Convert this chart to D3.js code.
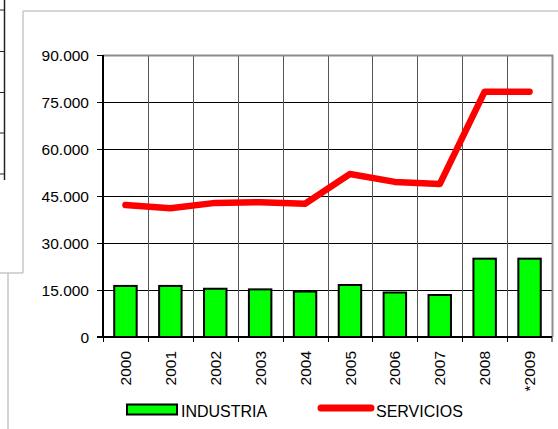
<!DOCTYPE html>
<html>
<head>
<meta charset="utf-8">
<script src="https://cdn.jsdelivr.net/npm/d3@7"></script>
<style>
  body { margin: 0; background: #fff; }
  svg { display: block; }
  text { font-family: "Liberation Sans", Arial, sans-serif; fill: #000; }
</style>
</head>
<body>
<svg id="chart" width="558" height="429"></svg>
<script>
var years = ["2000", "2001", "2002", "2003", "2004", "2005", "2006", "2007", "2008", "*2009"];
var industria = [16300, 16300, 15400, 15200, 14500, 16600, 14200, 13400, 25000, 25000];
var servicios = [42100, 41100, 42800, 43000, 42500, 52000, 49500, 48800, 78300, 78300];
var yTicks = [0, 15000, 30000, 45000, 60000, 75000, 90000];

var margin = {top: 55, right: 6, bottom: 92, left: 103};
var width = 558, height = 429;
var plotR = width - margin.right, plotB = height - margin.bottom;

var svg = d3.select("#chart");

// decorative frames left over from the sheet behind the chart
var deco = svg.append("g").attr("stroke", "#c8c8c8").attr("stroke-width", 1.5).attr("fill", "none");
deco.append("path").attr("d", "M23,11H558 M23,11V273 M0,273H23 M8,273V429");
var leftAxis = svg.append("g").attr("stroke", "#222").attr("stroke-width", 1.5);
leftAxis.append("line").attr("x1", 4.5).attr("x2", 4.5).attr("y1", 0).attr("y2", 180);
[10, 51.5, 92.5, 133, 174].forEach(function(y) {
    leftAxis.append("line").attr("x1", 0).attr("x2", 4.5).attr("y1", y).attr("y2", y).attr("stroke-width", 1);
});

var x = d3.scaleBand()
    .domain(years)
    .range([margin.left, plotR])
    .padding(0);

var y = d3.scaleLinear()
    .domain([0, 90000])
    .range([plotB, margin.top]);

var fmt = d3.formatLocale({decimal: ",", thousands: ".", grouping: [3], currency: ["", ""]}).format(",.0f");

// horizontal grid
svg.append("g").selectAll("line")
    .data(yTicks.slice(1, -1))
    .enter().append("line")
    .attr("x1", margin.left).attr("x2", plotR)
    .attr("y1", function(d) { return Math.round(y(d)) + 0.5; })
    .attr("y2", function(d) { return Math.round(y(d)) + 0.5; })
    .attr("stroke", "#000").attr("stroke-width", 1);

// vertical grid
svg.append("g").selectAll("line")
    .data(years.slice(1))
    .enter().append("line")
    .attr("x1", function(d) { return Math.round(x(d)) + 0.5; })
    .attr("x2", function(d) { return Math.round(x(d)) + 0.5; })
    .attr("y1", margin.top).attr("y2", plotB)
    .attr("stroke", "#555").attr("stroke-width", 1);

// plot frame top/right
svg.append("path")
    .attr("d", "M" + margin.left + "," + (margin.top + 0.5) + "H" + (plotR + 0.5) + "V" + plotB)
    .attr("fill", "none").attr("stroke", "#8c8c8c").attr("stroke-width", 2);

// bars
var bw = x.bandwidth() * 0.5;
svg.append("g").selectAll("rect")
    .data(industria)
    .enter().append("rect")
    .attr("x", function(d, i) { return x(years[i]) + (x.bandwidth() - bw) / 2; })
    .attr("y", function(d) { return y(d); })
    .attr("width", bw)
    .attr("height", function(d) { return plotB - y(d); })
    .attr("fill", "#00ff00")
    .attr("stroke", "#000")
    .attr("stroke-width", 2);

// y axis
var yAxis = svg.append("g");
yAxis.append("line")
    .attr("x1", margin.left).attr("x2", margin.left)
    .attr("y1", margin.top).attr("y2", plotB)
    .attr("stroke", "#000").attr("stroke-width", 2);
yAxis.selectAll("line.tick")
    .data(yTicks)
    .enter().append("line")
    .attr("class", "tick")
    .attr("x1", margin.left - 6).attr("x2", margin.left)
    .attr("y1", function(d) { return Math.round(y(d)) + 0.5; })
    .attr("y2", function(d) { return Math.round(y(d)) + 0.5; })
    .attr("stroke", "#000").attr("stroke-width", 1);
yAxis.selectAll("text")
    .data(yTicks)
    .enter().append("text")
    .attr("x", 89)
    .attr("y", function(d) { return y(d); })
    .attr("dy", "0.36em")
    .attr("text-anchor", "end")
    .style("font-size", "15.5px")
    .text(function(d) { return fmt(d); });

// x axis
var xAxis = svg.append("g");
xAxis.append("line")
    .attr("x1", margin.left - 6).attr("x2", plotR)
    .attr("y1", plotB).attr("y2", plotB)
    .attr("stroke", "#000").attr("stroke-width", 2);
xAxis.selectAll("line.tick")
    .data(years.concat(["end"]))
    .enter().append("line")
    .attr("class", "tick")
    .attr("x1", function(d) { return d === "end" ? plotR : Math.round(x(d)) + 0.5; })
    .attr("x2", function(d) { return d === "end" ? plotR : Math.round(x(d)) + 0.5; })
    .attr("y1", plotB).attr("y2", plotB + 5)
    .attr("stroke", "#000").attr("stroke-width", 1);
xAxis.selectAll("text")
    .data(years)
    .enter().append("text")
    .attr("transform", function(d) {
        return "translate(" + (x(d) + x.bandwidth() / 2) + "," + 351 + ") rotate(-90)";
    })
    .attr("dy", "0.36em")
    .attr("text-anchor", "end")
    .style("font-size", "15.5px")
    .text(function(d) { return d; });

// servicios line
var line = d3.line()
    .x(function(d, i) { return x(years[i]) + x.bandwidth() / 2; })
    .y(function(d) { return y(d); });
svg.append("path")
    .datum(servicios)
    .attr("d", line)
    .attr("fill", "none")
    .attr("stroke", "#ff0000")
    .attr("stroke-width", 6.5)
    .attr("stroke-linejoin", "round")
    .attr("stroke-linecap", "round");

// legend
var legend = svg.append("g");
legend.append("rect")
    .attr("x", 127).attr("y", 404.5).attr("width", 50).attr("height", 10)
    .attr("fill", "#00ff00").attr("stroke", "#000").attr("stroke-width", 2);
legend.append("text")
    .attr("x", 181).attr("y", 416.5)
    .style("font-size", "16px")
    .text("INDUSTRIA");
legend.append("line")
    .attr("x1", 321).attr("x2", 371).attr("y1", 408).attr("y2", 408)
    .attr("stroke", "#ff0000").attr("stroke-width", 7).attr("stroke-linecap", "round");
legend.append("text")
    .attr("x", 376).attr("y", 416.5)
    .style("font-size", "16px")
    .text("SERVICIOS");
</script>
</body>
</html>
